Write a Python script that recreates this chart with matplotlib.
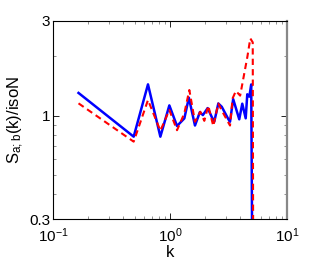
import matplotlib
matplotlib.use('Agg')
import matplotlib.pyplot as plt
from matplotlib.ticker import FixedLocator, FixedFormatter, NullFormatter, LogLocator

plt.rcParams['font.family'] = ['Liberation Sans', 'DejaVu Sans']
plt.rcParams['mathtext.default'] = 'regular'

# values
k_blue = [0.165, 0.489, 0.648, 0.827, 0.987, 1.148, 1.326, 1.45, 1.635, 1.80,
          1.91, 2.10, 2.27, 2.39, 2.59, 2.77, 3.15, 3.26, 3.47, 3.91, 4.15,
          4.44, 4.58, 4.77, 4.95, 5.2]
s_blue = [1.30, 0.782, 1.436, 0.782, 1.125, 0.885, 0.967, 1.23, 0.89, 1.04,
          1.005, 1.09, 0.986, 0.93, 1.15, 1.107, 0.96, 0.93, 1.21, 0.957, 1.147,
          0.968, 1.28, 1.245, 1.435, 0.01]

k_red = [0.165, 0.489, 0.648, 0.827, 0.987, 1.148, 1.326, 1.463, 1.635, 1.816,
         1.965, 2.126, 2.345, 2.588, 2.77, 3.26, 3.43, 3.66, 3.98, 4.59, 4.86,
         5.1, 5.2]
s_red = [1.152, 0.738, 1.197, 0.838, 1.066, 0.843, 1.026, 1.345, 0.93, 1.045,
         0.94, 1.12, 0.885, 1.15, 1.06, 0.89, 1.22, 1.33, 1.26, 1.98, 2.45,
         2.34, 0.01]

xlim = (0.1, 10)
ylim = (0.3, 3)
y_ticks = [0.3, 1, 3]
y_ticklabels = ['0.3', '1', '3']
x_ticks = [0.1, 1, 10]
x_ticklabels = ['$10^{-1}$', '$10^{0}$', '$10^{1}$']

fig = plt.figure(figsize=(3.16, 2.59), dpi=100)
ax = fig.add_axes([0.168, 0.154, 0.740, 0.765])

ax.plot(k_blue, s_blue, '-', color='#0000ff', linewidth=1.8)
ax.plot(k_red, s_red, '--', color='#ff0000', linewidth=1.5, dashes=(3, 2))

ax.set_xscale('log')
ax.set_yscale('log')
ax.set_xlim(xlim)
ax.set_ylim(ylim)

ax.xaxis.set_major_locator(FixedLocator(x_ticks))
ax.xaxis.set_major_formatter(FixedFormatter(x_ticklabels))
ax.xaxis.set_minor_locator(LogLocator(base=10, subs=range(2, 10)))
ax.xaxis.set_minor_formatter(NullFormatter())

ax.yaxis.set_major_locator(FixedLocator(y_ticks))
ax.yaxis.set_major_formatter(FixedFormatter(y_ticklabels))
ax.yaxis.set_minor_locator(FixedLocator([0.4, 0.5, 0.6, 0.7, 0.8, 0.9, 2]))
ax.yaxis.set_minor_formatter(NullFormatter())

ax.tick_params(which='both', direction='in', top=True, right=True,
               labelsize=11)
ax.tick_params(axis='y', pad=2)
ax.tick_params(axis='x', pad=5.5)
ax.tick_params(which='major', length=4, width=0.6)
ax.tick_params(which='minor', length=2.5, width=0.5, colors='#666666')

for side in ['left', 'top', 'bottom']:
    ax.spines[side].set_linewidth(0.8)
ax.spines['right'].set_color('#888888')
ax.spines['right'].set_linewidth(1.6)

ax.set_xlabel('k', fontsize=12, labelpad=-0.5)
ax.set_ylabel('S$_{a;b}$(k)/isoN', fontsize=12, labelpad=2)

fig.savefig('out.png', dpi=100)
